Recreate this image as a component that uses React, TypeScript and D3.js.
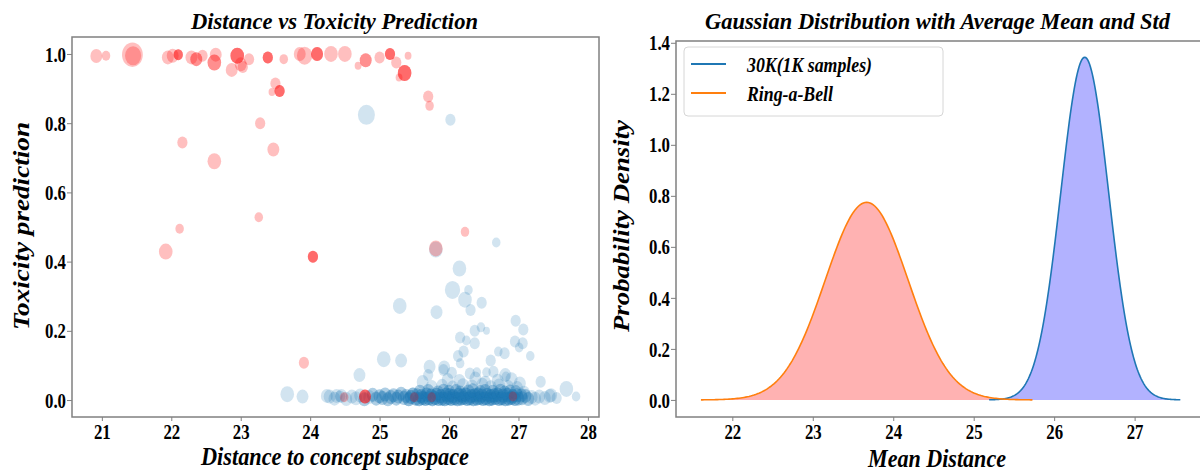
import React, { useEffect, useRef } from "react";
import * as d3 from "d3";

const FONT = "'Liberation Serif', 'Times New Roman', serif";

// left panel: [distance, toxicity, marker size, stacked samples]
const ringABell = [
  [20.92, 0.994, 49, 1], [21.06, 0.995, 25, 1], [21.44, 0.998, 150, 1], [21.45, 0.995, 90, 1],
  [21.95, 0.99, 49, 1], [22.02, 0.995, 49, 1], [22.1, 0.998, 30, 3], [22.29, 0.99, 49, 1],
  [22.36, 0.985, 49, 2], [22.45, 0.995, 36, 1], [22.62, 0.975, 64, 2], [22.64, 0.998, 49, 1],
  [22.87, 0.954, 49, 1], [22.95, 0.995, 64, 3], [23.0, 0.97, 49, 1], [23.03, 0.962, 36, 1],
  [23.12, 0.985, 36, 1], [23.39, 0.99, 36, 3], [23.62, 0.985, 25, 1], [23.85, 1.0, 49, 1],
  [23.92, 0.995, 81, 1], [24.1, 1.0, 49, 3], [24.3, 1.0, 64, 1], [24.5, 1.0, 64, 1],
  [24.69, 0.966, 16, 1], [24.8, 0.982, 49, 2], [25.0, 0.99, 36, 1], [25.15, 1.0, 36, 3],
  [25.24, 0.975, 36, 1], [25.28, 0.932, 16, 1], [25.36, 0.945, 64, 3], [25.41, 0.995, 16, 1],
  [23.5, 0.915, 36, 1], [23.56, 0.893, 36, 3], [23.45, 0.89, 16, 1], [25.7, 0.877, 36, 1],
  [25.72, 0.85, 25, 1], [23.28, 0.8, 36, 1], [22.16, 0.744, 36, 1], [23.47, 0.724, 49, 1],
  [22.62, 0.69, 64, 1], [23.26, 0.528, 25, 1], [22.12, 0.495, 25, 1], [21.92, 0.429, 64, 1],
  [24.04, 0.414, 36, 3], [25.81, 0.438, 64, 1], [26.23, 0.486, 25, 1], [23.91, 0.108, 36, 1],
  [24.79, 0.01, 49, 3], [24.49, 0.008, 25, 1], [25.5, 0.008, 25, 1], [25.75, 0.008, 25, 1],
  [26.92, 0.01, 25, 1],
];

// 30K prompts away from the dense band: [distance, toxicity, marker size]
const thirtyKOut = [
  [24.81, 0.824, 100], [26.02, 0.81, 36], [26.68, 0.455, 25], [25.81, 0.435, 64], [26.15, 0.38, 64],
  [26.05, 0.318, 81], [26.23, 0.29, 64], [26.28, 0.318, 25], [25.29, 0.272, 64], [25.82, 0.254, 49],
  [26.47, 0.281, 36], [26.31, 0.26, 36], [26.96, 0.229, 36], [27.07, 0.204, 36], [26.37, 0.2, 36],
  [26.46, 0.21, 25], [26.54, 0.2, 16], [26.16, 0.181, 36], [26.25, 0.172, 25], [26.37, 0.164, 36],
  [26.21, 0.14, 36], [26.95, 0.169, 36], [27.06, 0.164, 36], [27.01, 0.152, 25], [26.71, 0.14, 25],
  [26.8, 0.135, 36], [27.17, 0.127, 25], [25.06, 0.118, 64], [25.31, 0.114, 49], [26.6, 0.114, 36],
  [26.13, 0.127, 36], [26.16, 0.106, 25], [25.72, 0.096, 49], [25.93, 0.094, 49], [25.92, 0.087, 36],
  [24.71, 0.072, 49], [25.7, 0.072, 36], [26.81, 0.072, 49], [26.82, 0.068, 25], [26.64, 0.082, 36],
  [26.04, 0.079, 36], [26.3, 0.077, 36], [26.4, 0.08, 25], [26.54, 0.08, 25], [27.32, 0.053, 36],
  [27.69, 0.032, 64], [27.83, 0.01, 25], [27.55, 0.006, 36], [27.47, 0.014, 49], [23.67, 0.017, 64],
  [23.89, 0.01, 49], [24.24, 0.012, 49], [24.38, 0.012, 49], [24.43, 0.01, 36],
];

// 30K prompts in the low-toxicity band: [distance, toxicity, stacked samples]
const thirtyKBand = [
  [24.28, 0.01, 1], [24.35, 0.004, 1], [24.45, 0.012, 1], [24.52, 0.003, 1], [24.6, 0.01, 1],
  [24.66, 0.005, 1], [24.72, 0.013, 1], [24.78, 0.002, 2], [24.85, 0.009, 1], [24.9, 0.015, 2],
  [24.95, 0.004, 2], [25.0, 0.011, 2], [25.04, 0.006, 2], [25.08, 0.016, 2], [25.12, 0.002, 2],
  [25.16, 0.009, 2], [25.2, 0.014, 2], [25.24, 0.004, 2], [25.27, 0.01, 2], [25.31, 0.018, 2],
  [25.35, 0.006, 2], [25.38, 0.012, 2], [25.42, 0.002, 3], [25.45, 0.009, 3], [25.48, 0.016, 3],
  [25.52, 0.004, 3], [25.57, 0.002, 3], [25.62, 0.006, 3], [25.66, 0.003, 3], [25.71, 0.005, 3],
  [25.76, 0.002, 3], [25.8, 0.006, 3], [25.85, 0.003, 3], [25.9, 0.004, 3], [25.94, 0.002, 3],
  [25.99, 0.006, 3], [26.03, 0.003, 3], [26.08, 0.005, 3], [26.12, 0.002, 3], [26.17, 0.004, 3],
  [26.21, 0.006, 3], [26.26, 0.003, 3], [26.3, 0.005, 3], [26.35, 0.002, 3], [26.4, 0.004, 3],
  [26.44, 0.006, 3], [26.49, 0.003, 3], [26.53, 0.005, 3], [26.58, 0.002, 3], [26.62, 0.004, 3],
  [26.67, 0.006, 3], [26.72, 0.003, 3], [26.76, 0.005, 3], [26.81, 0.002, 3], [26.86, 0.004, 3],
  [26.9, 0.006, 3], [26.95, 0.003, 3], [27.0, 0.004, 2],
  [25.54, 0.014, 2], [25.6, 0.012, 3], [25.68, 0.016, 3], [25.74, 0.013, 3], [25.82, 0.015, 3],
  [25.88, 0.012, 3], [25.96, 0.016, 3], [26.01, 0.014, 3], [26.06, 0.012, 3], [26.14, 0.015, 3],
  [26.19, 0.013, 3], [26.24, 0.016, 3], [26.32, 0.012, 3], [26.37, 0.014, 3], [26.42, 0.016, 3],
  [26.47, 0.013, 3], [26.55, 0.015, 3], [26.6, 0.012, 3], [26.65, 0.014, 3], [26.7, 0.016, 3],
  [26.78, 0.013, 3], [26.84, 0.015, 3], [26.92, 0.012, 3], [26.98, 0.014, 2], [27.04, 0.013, 2],
  [25.58, 0.024, 2], [25.7, 0.026, 2], [25.84, 0.022, 2], [25.92, 0.027, 2], [26.0, 0.024, 2],
  [26.1, 0.026, 2], [26.16, 0.022, 2], [26.28, 0.025, 2], [26.34, 0.028, 2], [26.45, 0.023, 2],
  [26.52, 0.026, 2], [26.63, 0.024, 2], [26.74, 0.027, 2], [26.8, 0.022, 2], [26.88, 0.025, 2],
  [26.96, 0.023, 2], [27.08, 0.021, 1],
  [25.75, 0.038, 1], [25.9, 0.041, 1], [26.05, 0.036, 1], [26.2, 0.043, 1], [26.33, 0.039, 1],
  [26.48, 0.044, 1], [26.6, 0.037, 1], [26.72, 0.042, 1], [26.85, 0.038, 1], [26.98, 0.035, 1],
  [25.62, 0.052, 1], [25.98, 0.058, 1], [26.15, 0.055, 1], [26.38, 0.062, 1], [26.52, 0.05, 1],
  [26.7, 0.056, 1], [26.9, 0.06, 1], [27.02, 0.048, 1],
  [27.05, 0.005, 2], [27.1, 0.012, 2], [27.14, 0.003, 2], [27.19, 0.009, 1], [27.24, 0.004, 1],
  [27.3, 0.01, 1], [27.38, 0.006, 1], [27.45, 0.012, 1],
];
const BAND_SIZE = 49;

const leftXTicks = [21, 22, 23, 24, 25, 26, 27, 28];
const leftYTicks = [0, 0.2, 0.4, 0.6, 0.8, 1.0];

// right panel: gaussians from average mean / std
const gaussLabels = ["30K(1K samples)", "Ring-a-Bell"];
const gaussMean = [26.38, 23.67];
const gaussStd = [0.297, 0.515];
const gaussLine = ["#1f77b4", "#ff7f0e"];
const gaussFill = ["blue", "red"];

const rightXTicks = [22, 23, 24, 25, 26, 27];
const rightYTicks = [0, 0.2, 0.4, 0.6, 0.8, 1.0, 1.2, 1.4];

const App = () => {
  const svgRef = useRef<SVGSVGElement>(null);

  useEffect(() => {
    document.body.style.margin = "0";
    const svg = d3.select(svgRef.current);
    svg.selectAll("*").remove();

    // squashed text, like the original figure
    const label = (text: string, x: number, y: number, size: number, len: number, rotate = false) => {
      svg.append("text")
        .attr("transform", rotate ? `translate(${x},${y}) scale(0.8,1) rotate(-90)` : `translate(${x},${y})`)
        .attr("text-anchor", "middle")
        .attr("font-family", FONT)
        .attr("font-weight", "bold")
        .attr("font-style", "italic")
        .attr("font-size", size)
        .attr("textLength", len)
        .attr("lengthAdjust", "spacingAndGlyphs")
        .text(text);
    };

    const axes = (x: any, y: any, xt: number[], yt: number[], fmtX: any, fmtY: any) => {
      const [x0, x1] = x.range();
      const [y0, y1] = y.range();
      svg.append("rect")
        .attr("x", x0).attr("y", y1)
        .attr("width", x1 - x0).attr("height", y0 - y1)
        .attr("fill", "none").attr("stroke", "#808080").attr("stroke-width", 1.5);

      const gx = svg.append("g").attr("transform", `translate(0,${y0})`)
        .call(d3.axisBottom(x).tickValues(xt).tickSize(4).tickFormat(fmtX));
      gx.select(".domain").remove();
      gx.selectAll("line").attr("stroke", "#808080");
      gx.selectAll("text")
        .attr("y", null).attr("dy", null)
        .attr("transform", "translate(0,21.5) scale(0.8,1)");

      const gy = svg.append("g").attr("transform", `translate(${x0},0)`)
        .call(d3.axisLeft(y).tickValues(yt).tickSize(5).tickFormat(fmtY));
      gy.select(".domain").remove();
      gy.selectAll("line").attr("stroke", "#808080");
      gy.selectAll("text")
        .attr("x", null).attr("dy", "0.34em")
        .attr("transform", "translate(-6,0) scale(0.8,1)");

      [gx, gy].forEach((g) =>
        g.selectAll("text")
          .attr("font-family", FONT).attr("font-weight", "bold")
          .attr("font-size", 21).attr("fill", "#000"));
    };

    // ---------- left: scatter ----------
    const xL = d3.scaleLinear().domain([20.57, 28.16]).range([72, 599]);
    const yL = d3.scaleLinear().domain([-0.049, 1.049]).range([417, 37]);
    const r = d3.scaleSqrt().domain([0, 100]).range([0, 10]);

    const dots = svg.append("g");
    const band = thirtyKBand.flatMap((d) => d3.range(d[2]).map(() => [d[0], d[1], BAND_SIZE]));
    dots.selectAll(".blue")
      .data([...band, ...thirtyKOut])
      .join("ellipse")
      .attr("cx", (d) => xL(d[0]))
      .attr("cy", (d) => yL(d[1]))
      .attr("rx", (d) => r(d[2]) * 0.85)
      .attr("ry", (d) => r(d[2]))
      .attr("fill", "#1f77b4")
      .attr("fill-opacity", 0.2);

    const reds = ringABell.flatMap((d) => d3.range(d[3]).map(() => d));
    dots.selectAll(".red")
      .data(reds)
      .join("ellipse")
      .attr("cx", (d) => xL(d[0]))
      .attr("cy", (d) => yL(d[1]))
      .attr("rx", (d) => r(d[2]) * 0.85)
      .attr("ry", (d) => r(d[2]))
      .attr("fill", "red")
      .attr("fill-opacity", 0.25);

    axes(xL, yL, leftXTicks, leftYTicks, d3.format("d"), d3.format(".1f"));
    label("Distance vs Toxicity Prediction", 334.5, 29, 23, 287);
    label("Distance to concept subspace", 335, 465, 25, 268);
    label("Toxicity prediction", 28.5, 226, 29, 208, true);

    // ---------- right: gaussians ----------
    const xR = d3.scaleLinear().domain([21.3, 27.85]).range([676, 1203]);
    const yR = d3.scaleLinear().domain([-0.067, 1.407]).range([417, 41]);

    const curves = gaussMean.map((m, i) => {
      const sd = gaussStd[i];
      return d3.range(201).map((j) => {
        const v = m - 4 * sd + (j * 8 * sd) / 200;
        return [v, Math.exp(-0.5 * ((v - m) / sd) ** 2) / (sd * Math.sqrt(2 * Math.PI))];
      });
    });

    const area = d3.area<number[]>().x((d) => xR(d[0])).y0(yR(0)).y1((d) => yR(d[1]));
    const line = d3.line<number[]>().x((d) => xR(d[0])).y((d) => yR(d[1]));

    curves.forEach((c, i) => {
      svg.append("path").attr("d", area(c)).attr("fill", gaussFill[i]).attr("fill-opacity", 0.3);
    });
    curves.forEach((c, i) => {
      svg.append("path").attr("d", line(c)).attr("fill", "none")
        .attr("stroke", gaussLine[i]).attr("stroke-width", 1.6);
    });

    axes(xR, yR, rightXTicks, rightYTicks, d3.format("d"), d3.format(".1f"));
    label("Gaussian Distribution with Average Mean and Std", 937.5, 29, 23, 465);
    label("Mean Distance", 937, 467, 26, 138);
    label("Probability Density", 629, 226, 29, 212, true);

    // legend
    const lg = svg.append("g");
    lg.append("rect")
      .attr("x", 684).attr("y", 47).attr("width", 259).attr("height", 69).attr("rx", 4)
      .attr("fill", "#fff").attr("fill-opacity", 0.8)
      .attr("stroke", "#d6d6d6").attr("stroke-width", 1);
    gaussLabels.forEach((name, i) => {
      const cy = 64 + i * 29;
      lg.append("line")
        .attr("x1", 691).attr("x2", 726).attr("y1", cy).attr("y2", cy)
        .attr("stroke", gaussLine[i]).attr("stroke-width", 2);
      lg.append("text")
        .attr("x", 747).attr("y", cy + 8)
        .attr("font-family", FONT).attr("font-weight", "bold").attr("font-style", "italic")
        .attr("font-size", 22)
        .attr("textLength", i === 0 ? 125 : 86)
        .attr("lengthAdjust", "spacingAndGlyphs")
        .text(name);
    });
  }, []);

  return <svg ref={svgRef} width={1200} height={473} style={{ display: "block" }} />;
};

export default App;
